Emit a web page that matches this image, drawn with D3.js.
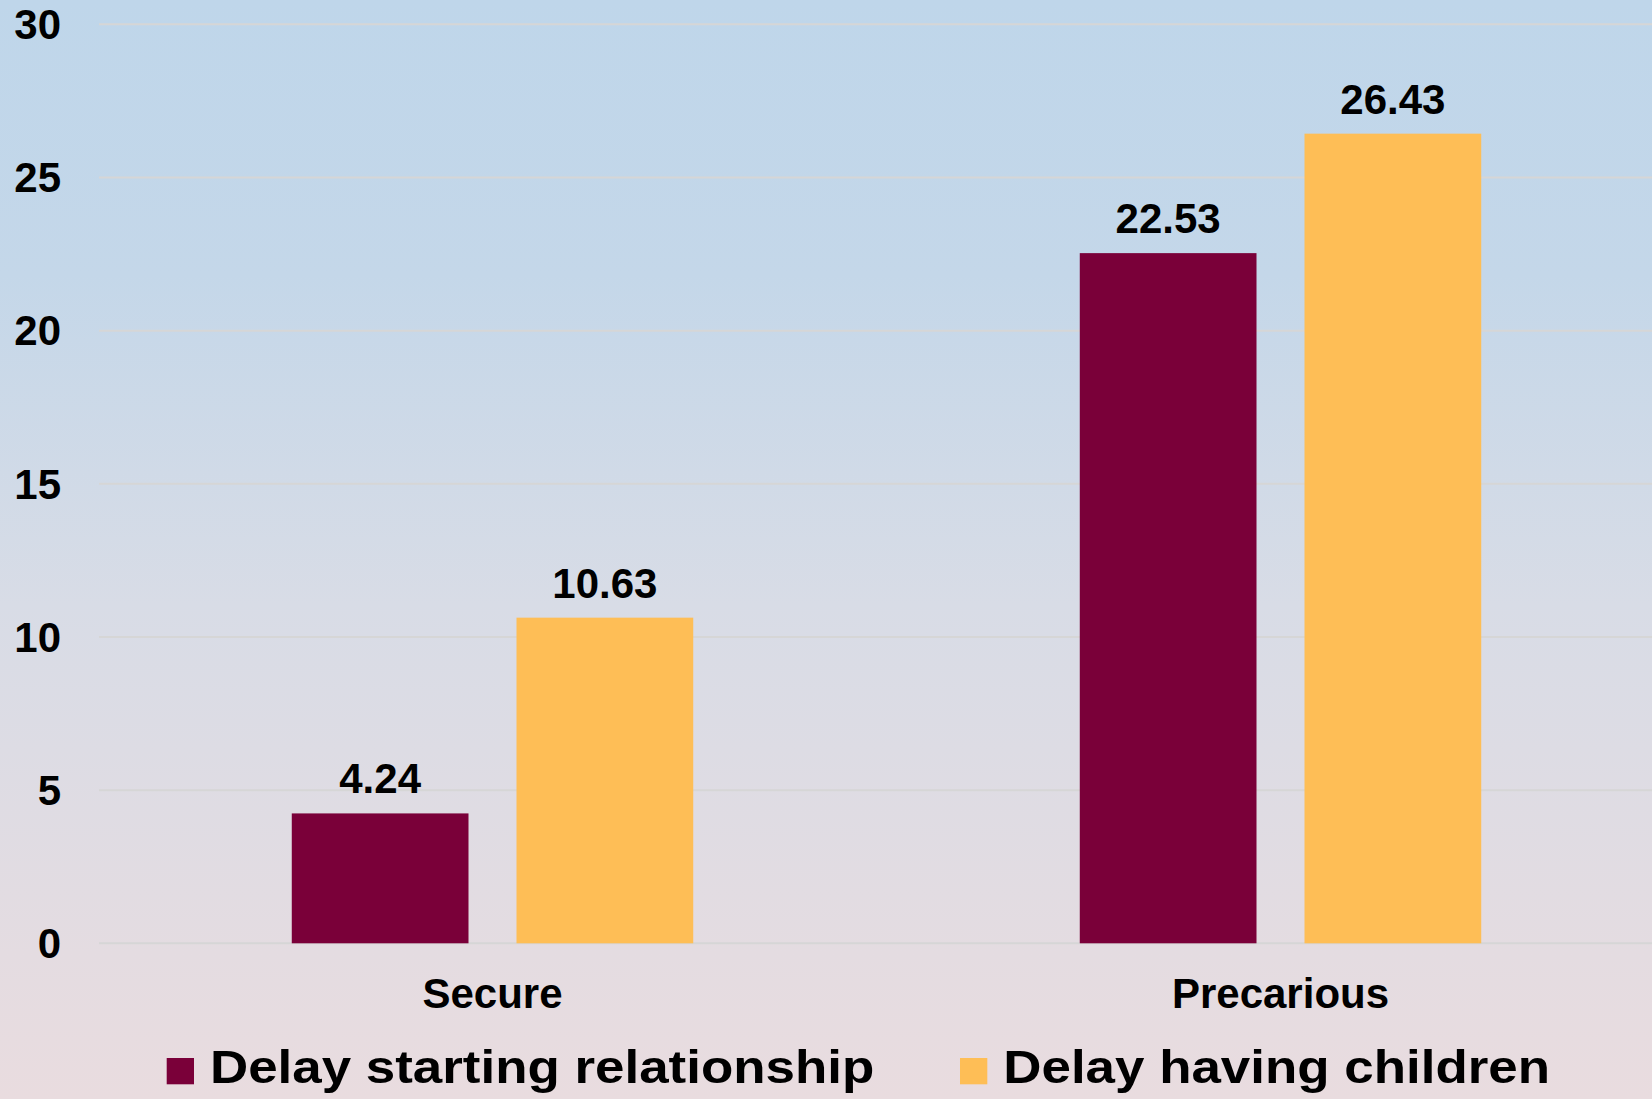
<!DOCTYPE html>
<html>
<head>
<meta charset="utf-8">
<script src="https://cdn.jsdelivr.net/npm/d3@7"></script>
<style>
  html, body { margin: 0; padding: 0; overflow: hidden; }
  svg { display: block; font-family: "Liberation Sans", Arial, sans-serif; font-weight: bold; }
</style>
</head>
<body>
<div class="chart"></div>
<script>
/* data */
const categories = ['Secure', 'Precarious']
const series = ['Delay starting relationship', 'Delay having children']
const relationshipValues = [4.24, 22.53]
const childrenValues = [10.63, 26.43]
const yTicks = [0, 5, 10, 15, 20, 25, 30]

const width = 1652
const height = 1099
const colors = ['#7a0039', '#febe56']

const svg = d3.select('.chart')
    .append('svg')
    .attr('width', width)
    .attr('height', height)

// background gradient, blue on top going pinkish to the bottom
const grad = svg.append('defs').append('linearGradient')
    .attr('id', 'bg')
    .attr('x1', 0).attr('y1', 0).attr('x2', 0).attr('y2', 1)
grad.append('stop').attr('offset', '0%').attr('stop-color', '#bfd6ea')
grad.append('stop').attr('offset', '25%').attr('stop-color', '#c4d7e9')
grad.append('stop').attr('offset', '55%').attr('stop-color', '#d8dce6')
grad.append('stop').attr('offset', '100%').attr('stop-color', '#e9dcdf')
svg.append('rect')
    .attr('width', width)
    .attr('height', height)
    .attr('fill', 'url(#bg)')

const y = d3.scaleLinear()
    .domain([0, 30])
    .range([943.3, 24.3])

const x0 = d3.scaleBand()
    .domain(categories)
    .range([98.5, 1674.5])

const x1 = d3.scaleBand()
    .domain(series)
    .range([0, x0.bandwidth()])
    .paddingInner(0.2136)
    .paddingOuter(0.86)

/* gridlines */
svg.append('g')
    .selectAll('line')
    .data(yTicks)
    .enter()
    .append('line')
    .attr('x1', 99)
    .attr('x2', width)
    .attr('y1', d => y(d))
    .attr('y2', d => y(d))
    .attr('stroke', '#d6d6d6')
    .attr('stroke-width', 2)

/* y axis labels */
const yAxis = svg.append('g')
    .attr('transform', 'translate(61,0)')
    .call(d3.axisLeft(y).tickValues(yTicks).tickSize(0).tickPadding(0))
yAxis.select('.domain').remove()
yAxis.selectAll('text')
    .attr('font-size', 42)
    .attr('font-family', '"Liberation Sans", Arial, sans-serif')
    .attr('font-weight', 'bold')
    .attr('fill', '#000')
    .attr('dy', '0.34em')

/* bars */
const rows = categories.map((c, i) => ({
    cat: c,
    vals: [relationshipValues[i], childrenValues[i]]
}))

const groups = svg.append('g')
    .selectAll('g')
    .data(rows)
    .enter()
    .append('g')
    .attr('transform', d => 'translate(' + x0(d.cat) + ',0)')

groups.selectAll('rect')
    .data(d => d.vals.map((v, j) => ({ s: series[j], v: v, j: j })))
    .enter()
    .append('rect')
    .attr('x', d => x1(d.s))
    .attr('y', d => y(d.v))
    .attr('width', x1.bandwidth())
    .attr('height', d => y(0) - y(d.v))
    .attr('fill', d => colors[d.j])

groups.selectAll('text')
    .data(d => d.vals.map((v, j) => ({ s: series[j], v: v })))
    .enter()
    .append('text')
    .attr('x', d => x1(d.s) + x1.bandwidth() / 2)
    .attr('y', d => y(d.v) - 20)
    .attr('text-anchor', 'middle')
    .attr('font-size', 42)
    .text(d => d3.format('.2f')(d.v))

/* category labels */
svg.append('g')
    .selectAll('text')
    .data(categories)
    .enter()
    .append('text')
    .attr('x', d => x0(d) + x0.bandwidth() / 2)
    .attr('y', 1008)
    .attr('text-anchor', 'middle')
    .attr('font-size', 42)
    .text(d => d)

/* legend */
const legendX = [166.7, 960]
const legend = svg.append('g')
    .selectAll('g')
    .data(series)
    .enter()
    .append('g')
    .attr('transform', (d, i) => 'translate(' + legendX[i] + ',0)')
legend.append('rect')
    .attr('y', 1058)
    .attr('width', 27.3)
    .attr('height', 26.3)
    .attr('fill', (d, i) => colors[i])
legend.append('text')
    .attr('transform', 'translate(43.3,1083.3) scale(1.15,1)')
    .attr('font-size', 46)
    .text(d => d)
</script>
</body>
</html>
